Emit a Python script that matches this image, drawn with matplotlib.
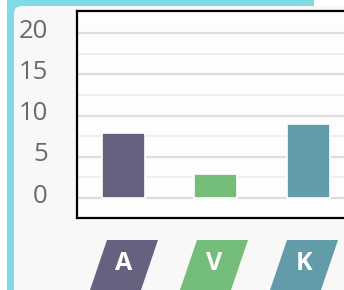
import matplotlib
matplotlib.use("Agg")
import matplotlib.pyplot as plt
from matplotlib.patches import FancyBboxPatch, Polygon
from matplotlib.transforms import ScaledTranslation

# data
categories = ["A", "V", "K"]
values = [7.9, 2.9, 9.0]
colors = ["#68607f", "#74bd7b", "#629ca8"]
y_ticks = [0, 5, 10, 15, 20]
y_minor = [2.5, 7.5, 12.5, 17.5]

W, H = 344, 290
DPI = 100


def fx(px):
    return px / W


def fy(py):
    # pixel row (from top) -> figure fraction (from bottom)
    return 1 - py / H


fig = plt.figure(figsize=(W / DPI, H / DPI), dpi=DPI, facecolor="white")

# card background: cyan frame + light inner panel
fig.patches.append(FancyBboxPatch((fx(7), fy(320)), fx(307), fy(-10) - fy(320),
                                  boxstyle="round,pad=0,rounding_size=0.03",
                                  transform=fig.transFigure, facecolor="#7fdbe6",
                                  edgecolor="none", zorder=-3))
fig.patches.append(FancyBboxPatch((fx(14), fy(320)), fx(360), fy(6) - fy(320),
                                  boxstyle="round,pad=0,rounding_size=0.025",
                                  transform=fig.transFigure, facecolor="#f8f8f8",
                                  edgecolor="none", zorder=-2))

ax_left, ax_right = 77, 77 + 277.5
ax = fig.add_axes([fx(ax_left), fy(218), fx(ax_right - ax_left), fy(11) - fy(218)])
ax.set_facecolor("#fdfdfd")

x = list(range(len(categories)))
ax.bar(x, values, width=0.465, color=colors, edgecolor="white", linewidth=1.2, zorder=3)

ax.set_xlim(-0.5, 2.5)
ax.set_ylim(-2.42, 22.67)
ax.set_yticks(y_ticks)
ax.set_yticks(y_minor, minor=True)
ax.set_xticks([])
ax.grid(axis="y", which="major", color="#dddddd", linewidth=1.6, zorder=0)
ax.grid(axis="y", which="minor", color="#efefef", linewidth=1.4, zorder=0)
ax.tick_params(axis="y", which="both", length=0, pad=21, labelsize=18.5,
               labelcolor="#6a6a6a")
for lab in ax.get_yticklabels():
    lab.set_fontfamily("Open Sans")
    lab.set_transform(lab.get_transform() + ScaledTranslation(0, 5 / DPI, fig.dpi_scale_trans))

for side in ["top", "left", "bottom", "right"]:
    ax.spines[side].set_color("black")
    ax.spines[side].set_linewidth(1.6)

# slanted category labels under the bars (slightly tighter spacing than bars)
lab_left, lab_right = 77, 77 + 270
lab_ax = fig.add_axes([fx(lab_left), 0, fx(lab_right - lab_left), fy(232)])
lab_ax.set_xlim(-0.5, 2.5)
lab_ax.set_ylim(0, 58)
lab_ax.axis("off")
unit = (lab_right - lab_left) / 3.0
half_w = 25.5 / unit
for i, (cat, col) in enumerate(zip(categories, colors)):
    top_y, bot_y = 50, -20
    s_top = 10.5 / unit
    s_bot = (-6.5 - 20 * 17 / 50) / unit
    poly = Polygon([(i - half_w + s_bot, bot_y), (i + half_w + s_bot, bot_y),
                    (i + half_w + s_top, top_y), (i - half_w + s_top, top_y)],
                   closed=True, facecolor=col, edgecolor="none", clip_on=False)
    lab_ax.add_patch(poly)
    lab_ax.text(i + 2 / unit, 20.5, cat, color="white", fontsize=18, fontweight="bold",
                fontfamily="Open Sans", ha="center", va="baseline")

fig.savefig("out.png", dpi=DPI)
